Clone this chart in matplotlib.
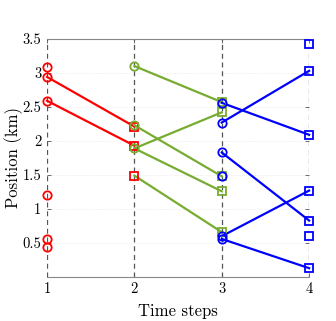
import matplotlib
matplotlib.use("Agg")
import matplotlib.pyplot as plt

plt.rcParams['font.family'] = 'serif'
plt.rcParams['font.serif'] = ['cmr10', 'DejaVu Serif']
plt.rcParams['mathtext.fontset'] = 'cm'
plt.rcParams['axes.formatter.use_mathtext'] = True

# Time steps
time_ticks = [1, 2, 3, 4]
y_ticks = [0.5, 1, 1.5, 2, 2.5, 3, 3.5]
y_tick_labels = ['0.5', '1', '1.5', '2', '2.5', '3', '3.5']

# Markers
red_circles_t1 = [3.09, 2.94, 2.59, 1.20, 0.56, 0.44]
red_squares_t2 = [2.21, 1.93, 1.49]
green_circles_t2 = [3.10, 2.23, 1.89]
green_squares_t3 = [2.57, 2.42, 1.48, 1.26, 0.66]
blue_circles_t3 = [2.56, 2.27, 1.83, 1.48, 0.60, 0.56]
blue_squares_t4 = [3.43, 3.03, 2.09, 1.27, 0.83, 0.61, 0.13]

# Segments (start value, end value) between consecutive time steps
red_start = [2.94, 2.59]
red_end = [2.21, 1.93]
green_start = [3.10, 2.23, 1.89, 1.89, 1.49]
green_end = [2.57, 1.48, 2.42, 1.26, 0.66]
blue_start = [2.56, 2.27, 1.83, 0.60, 0.56]
blue_end = [2.09, 3.03, 0.83, 1.27, 0.13]

RED = '#ff0000'
GREEN = '#77ac30'
BLUE = '#0000ff'

fig = plt.figure(figsize=(3.36, 3.21), dpi=100)
ax = fig.add_axes([0.14, 0.137, 0.78, 0.742])

for t in time_ticks:
    ax.axvline(t, color='#555555', linestyle=(0, (4, 3)), linewidth=0.9, zorder=1)

lw = 1.6
ms = 6
mew = 1.3

def draw_segments(starts, ends, t0, color):
    for s, e in zip(starts, ends):
        ax.plot([t0, t0 + 1], [s, e], color=color, linewidth=lw, zorder=2, clip_on=False)

def draw_markers(t, vals, marker, color):
    ax.plot([t] * len(vals), vals, linestyle='none', marker=marker, markersize=ms,
            markerfacecolor='none', markeredgecolor=color, markeredgewidth=mew,
            zorder=3, clip_on=False)

draw_segments(red_start, red_end, 1, RED)
draw_markers(1, red_circles_t1, 'o', RED)
draw_markers(2, red_squares_t2, 's', RED)

draw_segments(green_start, green_end, 2, GREEN)
draw_markers(2, green_circles_t2, 'o', GREEN)
draw_markers(3, green_squares_t3, 's', GREEN)

draw_segments(blue_start, blue_end, 3, BLUE)
draw_markers(3, blue_circles_t3, 'o', BLUE)
draw_markers(4, blue_squares_t4, 's', BLUE)

ax.set_xlim(1, 4)
ax.set_ylim(0, 3.5)
ax.set_xticks(time_ticks)
ax.set_xticklabels([str(t) for t in time_ticks])
ax.set_yticks(y_ticks)
ax.set_yticklabels(y_tick_labels)
ax.yaxis.grid(True, color='#e6e6e6', linestyle=':', linewidth=0.6)
ax.set_axisbelow(True)

for side in ['left', 'right']:
    ax.spines[side].set_visible(False)
for side in ['top', 'bottom']:
    ax.spines[side].set_color('#888888')
    ax.spines[side].set_linewidth(0.8)

ax.tick_params(direction='in', length=3, width=0.6, color='#555555',
               top=True, right=True, labelsize=10.5, pad=4)

ax.set_xlabel('Time steps', fontsize=12, labelpad=5)
ax.set_ylabel('Position (km)', fontsize=12, labelpad=0)

fig.savefig('out.png', dpi=100)
